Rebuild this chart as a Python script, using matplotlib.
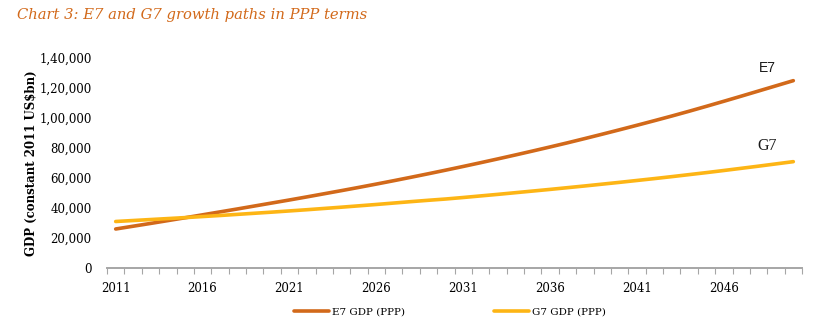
import numpy as np
import matplotlib
matplotlib.use("Agg")
import matplotlib.pyplot as plt
from matplotlib.ticker import FuncFormatter

# GDP at PPP, constant 2011 US$bn
years = list(range(2011, 2051))
e7_gdp = [26000, 27850, 29700, 31600, 33500, 35450, 37400, 39350, 41350, 43350,
          45350, 47400, 49500, 51600, 53750, 55950, 58200, 60500, 62850, 65250,
          67700, 70200, 72750, 75350, 78000, 80700, 83450, 86300, 89200, 92150,
          95150, 98200, 101300, 104500, 107800, 111150, 114550, 118000, 121450, 124900]
g7_gdp = [31000, 31650, 32300, 32950, 33600, 34300, 35000, 35750, 36500, 37250,
          38050, 38850, 39700, 40550, 41450, 42350, 43300, 44250, 45150, 46000,
          47000, 48050, 49100, 50200, 51300, 52400, 53550, 54700, 55900, 57100,
          58350, 59600, 60900, 62250, 63600, 65000, 66450, 67900, 69400, 70900]
series_names = ["E7 GDP (PPP)", "G7 GDP (PPP)"]
end_labels = ["E7", "G7"]
y_ticks = [0, 20000, 40000, 60000, 80000, 100000, 120000, 140000]

E7_COLOR = "#d2691a"
G7_COLOR = "#fdb515"
SERIF = ["DejaVu Serif"]


def indian_format(v, pos=None):
    # lakh-style grouping: 1,40,000
    s = str(int(round(v)))
    if len(s) <= 3:
        return s
    last3 = s[-3:]
    rest = s[:-3]
    groups = []
    while len(rest) > 2:
        groups.insert(0, rest[-2:])
        rest = rest[:-2]
    if rest:
        groups.insert(0, rest)
    return ",".join(groups + [last3])


fig = plt.figure(figsize=(8.24, 3.28), dpi=100)
ax = fig.add_axes([107 / 824, 60 / 328, 695 / 824, 210 / 328])

x = np.arange(len(years))
l1, = ax.plot(x, e7_gdp, color=E7_COLOR, lw=2.6, solid_capstyle="round",
              label=series_names[0])
l2, = ax.plot(x, g7_gdp, color=G7_COLOR, lw=2.6, solid_capstyle="round",
              label=series_names[1])

ax.set_xlim(-0.5, len(years) - 0.5)
ax.set_ylim(0, 140000)

# category axis: ticks between years, labels every fifth year
ax.set_xticks(x[::5])
ax.set_xticklabels([str(y) for y in years[::5]], fontfamily=SERIF, fontsize=8.5)
ax.set_xticks(np.arange(-0.5, len(years)), minor=True)
ax.tick_params(axis="x", which="major", length=0, pad=10)
ax.tick_params(axis="x", which="minor", length=4, width=0.8, color="#a6a6a6",
               direction="out")

ax.set_yticks(y_ticks)
ax.yaxis.set_major_formatter(FuncFormatter(indian_format))
ax.tick_params(axis="y", length=0, pad=11)
for lab in ax.get_yticklabels():
    lab.set_fontfamily(SERIF)
    lab.set_fontsize(8.5)

for side in ["top", "right", "left"]:
    ax.spines[side].set_visible(False)
ax.spines["bottom"].set_color("#a6a6a6")
ax.spines["bottom"].set_linewidth(1.4)

ax.set_ylabel("GDP (constant 2011 US$bn)", fontfamily=SERIF, fontweight="bold",
              fontsize=8.5, labelpad=1)

# series tags at the line ends
ax.text(x[-1] - 1.5, e7_gdp[-1] + 8500, end_labels[0], fontfamily="Liberation Sans",
        fontsize=10, ha="center", va="center", color="#1a1a1a")
ax.text(x[-1] - 1.5, g7_gdp[-1] + 10500, end_labels[1], fontfamily="Liberation Serif",
        fontsize=11.5, ha="center", va="center", color="#1a1a1a")

fig.text(17 / 824, 1 - 15 / 328, "Chart 3: E7 and G7 growth paths in PPP terms",
         fontfamily=SERIF, fontstyle="italic", fontsize=10.6, color="#d2691a",
         ha="left", va="center")

leg = fig.legend(handles=[l1, l2], loc="center", bbox_to_anchor=(450 / 824, 16 / 328),
                 ncol=2, frameon=False, handlelength=3.4, handletextpad=0.3,
                 columnspacing=8.5, prop={"family": SERIF, "size": 7.5})

fig.savefig("out.png", dpi=100)
